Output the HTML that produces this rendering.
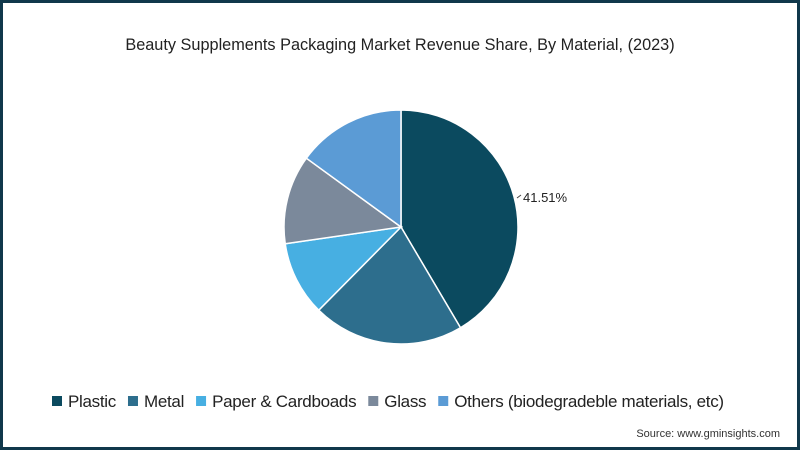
<!DOCTYPE html>
<html><head><meta charset="utf-8"><style>
body{margin:0;width:800px;height:450px;overflow:hidden;background:#fff;font-family:"Liberation Sans",sans-serif}
#frame{position:absolute;left:0;top:0;width:794px;height:444px;border:3px solid #10384b;background:#fff}
</style></head><body>
<div id="frame"></div>
<svg id="chart" width="800" height="450" style="position:absolute;left:0;top:0">
<text x="400" y="50" text-anchor="middle" font-size="16.3" fill="#222">Beauty Supplements Packaging Market Revenue Share, By Material, (2023)</text>
<g id="slices"></g>
<line x1="517" y1="198" x2="521" y2="195" stroke="#444" stroke-width="1"/>
<text x="523" y="202" font-size="13" fill="#222">41.51%</text>
<g id="legend"></g>
<text x="780" y="437" text-anchor="end" font-size="11" fill="#333">Source: www.gminsights.com</text>
</svg>
<script>
const categories=["Plastic","Metal","Paper & Cardboads","Glass","Others (biodegradeble materials, etc)"];
const values=[41.51,20.9,10.3,12.3,14.99];
const colors=["#0b4a5f","#2d6e8d","#47afe2","#7b899b","#5b9bd5"];
const ns="http://www.w3.org/2000/svg";
const cx=401,cy=227,r=117;
const total=values.reduce((a,b)=>a+b,0);
let a0=0;
const g=document.getElementById('slices');
values.forEach((v,i)=>{
  const a1=a0+v/total*2*Math.PI;
  const p=(a)=>[cx+r*Math.sin(a),cy-r*Math.cos(a)];
  const [x0,y0]=p(a0),[x1,y1]=p(a1);
  const path=document.createElementNS(ns,'path');
  path.setAttribute('d',`M${cx},${cy}L${x0},${y0}A${r},${r} 0 ${a1-a0>Math.PI?1:0} 1 ${x1},${y1}Z`);
  path.setAttribute('fill',colors[i]);
  path.setAttribute('stroke','#fff');
  path.setAttribute('stroke-width','1.5');
  
  
  g.appendChild(path);
  a0=a1;
});
const lg=document.getElementById('legend');
let x=52;
categories.forEach((c,i)=>{
  const it=document.createElementNS(ns,'g');
  
  
  const rc=document.createElementNS(ns,'rect');
  rc.setAttribute('x',x);rc.setAttribute('y',396);rc.setAttribute('width',10);rc.setAttribute('height',10);
  rc.setAttribute('fill',colors[i]);
  it.appendChild(rc);
  const t=document.createElementNS(ns,'text');
  t.setAttribute('x',x+16);t.setAttribute('y',407);t.setAttribute('font-size','17');t.setAttribute('fill','#222');
  t.setAttribute('letter-spacing','-0.3');
  t.textContent=c;
  it.appendChild(t);
  lg.appendChild(it);
  x+=16+t.getComputedTextLength()+12;
});
</script>
</body></html>
